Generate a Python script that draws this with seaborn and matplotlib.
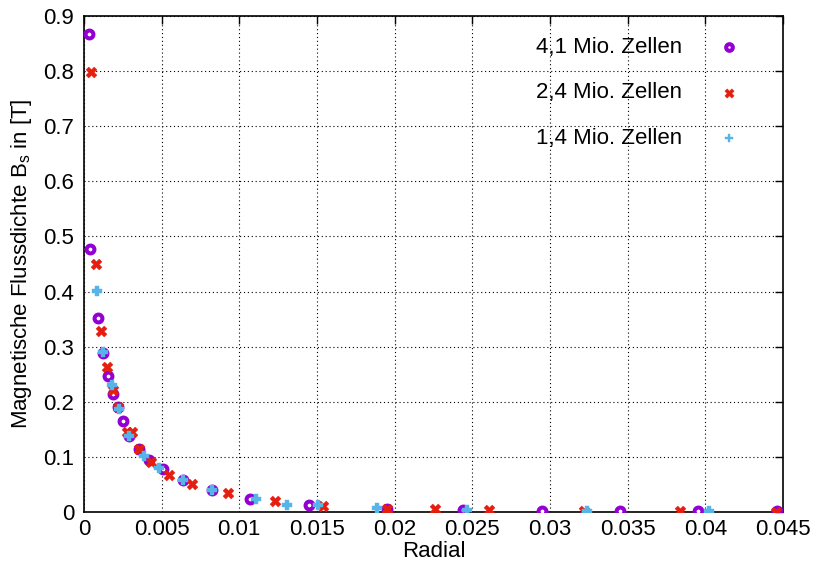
import matplotlib
matplotlib.use("Agg")
import matplotlib.pyplot as plt
import seaborn as sns
import pandas as pd
from matplotlib.ticker import FuncFormatter

# Flux density along the radial direction for three mesh resolutions
r_41 = [0.00035, 0.00040, 0.00093, 0.00124, 0.00157, 0.00187, 0.00219, 0.00249,
        0.00292, 0.00354, 0.00420, 0.00510, 0.00635, 0.00822, 0.01069, 0.01447,
        0.01949, 0.02442, 0.02950, 0.03450, 0.03955, 0.04460]
b_41 = [0.867, 0.477, 0.352, 0.288, 0.246, 0.214, 0.190, 0.166,
        0.137, 0.114, 0.094, 0.0775, 0.058, 0.040, 0.024, 0.0133,
        0.0054, 0.0036, 0.0024, 0.0020, 0.0015, 0.0010]

r_24 = [0.00043, 0.00075, 0.00110, 0.00150, 0.00185, 0.00220, 0.00279, 0.00311,
        0.00356, 0.00431, 0.00545, 0.00697, 0.00929, 0.01232, 0.01536, 0.01953,
        0.02260, 0.02610, 0.03220, 0.03837, 0.04455]
b_24 = [0.798, 0.450, 0.329, 0.264, 0.221, 0.190, 0.146, 0.146,
        0.114, 0.090, 0.068, 0.050, 0.034, 0.0194, 0.0115, 0.0060,
        0.0060, 0.0036, 0.0024, 0.0018, 0.0008]

r_14 = [0.00086, 0.00124, 0.00178, 0.00225, 0.00292, 0.00386, 0.00483, 0.00635,
        0.00822, 0.01107, 0.01309, 0.01508, 0.01884, 0.02464, 0.03240, 0.04025]
b_14 = [0.401, 0.291, 0.230, 0.186, 0.137, 0.1016, 0.080, 0.058,
        0.040, 0.023, 0.0122, 0.0133, 0.0067, 0.0036, 0.0024, 0.0018]

labels = ["4,1 Mio. Zellen", "2,4 Mio. Zellen", "1,4 Mio. Zellen"]
x_ticks = [0, 0.005, 0.01, 0.015, 0.02, 0.025, 0.03, 0.035, 0.04, 0.045]
y_ticks = [0, 0.1, 0.2, 0.3, 0.4, 0.5, 0.6, 0.7, 0.8, 0.9]

sns.set_theme(style="white")
plt.rcParams["font.family"] = ["Liberation Sans", "DejaVu Sans"]
plt.rcParams["mathtext.fontset"] = "custom"
plt.rcParams["mathtext.rm"] = "Liberation Sans"
plt.rcParams["text.color"] = "black"
plt.rcParams["axes.labelcolor"] = "black"

FS = 16

fig = plt.figure(figsize=(8.2, 5.64), dpi=100)
ax = fig.add_axes([0.1024, 0.0922, 0.8525, 0.8794])

purple = "#9400D3"
red = "#E51E10"
cyan = "#56B4E9"

df41 = pd.DataFrame({"r": r_41, "b": b_41})
df24 = pd.DataFrame({"r": r_24, "b": b_24})
df14 = pd.DataFrame({"r": r_14, "b": b_14})

sns.scatterplot(data=df41, x="r", y="b", ax=ax, marker="o", s=32,
                facecolor="white", edgecolor=purple, linewidth=2.9,
                label=labels[0], zorder=3)
sns.scatterplot(data=df24, x="r", y="b", ax=ax, marker="X", s=62,
                color=red, edgecolor=red, linewidth=0.3,
                label=labels[1], zorder=4)
sns.scatterplot(data=df14, x="r", y="b", ax=ax, marker="P", s=52,
                color=cyan, edgecolor=cyan, linewidth=0.3,
                label=labels[2], zorder=5)

ax.set_xlim(0, 0.045)
ax.set_ylim(0, 0.9)
ax.set_xticks(x_ticks)
ax.set_yticks(y_ticks)
fmt = FuncFormatter(lambda v, p: "0" if abs(v) < 1e-12 else f"{v:g}")
ax.xaxis.set_major_formatter(fmt)
ax.yaxis.set_major_formatter(fmt)

ax.grid(True, color="black", linestyle=(0, (1, 2.5)), linewidth=0.8)
ax.set_axisbelow(True)
for s in ax.spines.values():
    s.set_color("black")
    s.set_linewidth(1.2)

ax.tick_params(direction="in", length=6, width=1.0, top=True, right=True,
               labelsize=FS, colors="black")
ax.tick_params(axis="x", pad=5)
ax.tick_params(axis="y", pad=7)
ax.set_xlabel("Radial", fontsize=FS, labelpad=1, color="black")
ax.set_ylabel(r"Magnetische Flussdichte B$_\mathregular{s}$ in [T]",
              fontsize=FS, labelpad=7, color="black")

leg = ax.legend(loc="upper right", bbox_to_anchor=(0.967, 0.976),
                frameon=False, markerfirst=False, fontsize=FS,
                labelspacing=1.11, handletextpad=1.1, borderaxespad=0.0,
                markerscale=0.85)
for t in leg.get_texts():
    t.set_ha("right")
    t.set_color("black")

fig.savefig("out.png", dpi=100)
